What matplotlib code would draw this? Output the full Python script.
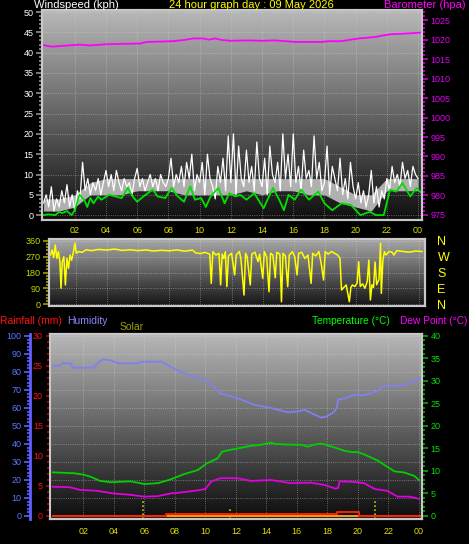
import numpy as np
import matplotlib
matplotlib.use("Agg")
import matplotlib.pyplot as plt

plt.rcParams["font.family"] = ["Liberation Sans", "DejaVu Sans"]

# ---- values ----
hour_ticks = [2, 4, 6, 8, 10, 12, 14, 16, 18, 20, 22, 24]
hour_labels = ["02", "04", "06", "08", "10", "12", "14", "16", "18", "20", "22", "00"]

# gusts, every 10 minutes from 00:00 to 24:00
gust_kph = [3, 5, 2, 7, 1, 4,
            2, 6, 3, 7.5, 2, 5,
            1, 6, 4, 13, 6, 9,
            5, 8, 6, 9, 5, 8,
            11, 7, 10, 6, 11, 8,
            6, 9, 7, 8, 5, 9,
            11.5, 7, 9, 6, 8, 10,
            7, 9, 6, 10, 8, 7,
            9, 14, 7, 10, 8, 12,
            7, 13, 9, 15, 6, 10,
            8, 13, 5, 15, 9, 7,
            4, 12, 8, 14, 6, 19.5,
            8, 20, 5, 17, 9, 7,
            16, 8, 12, 6, 18, 9,
            7, 14, 5, 17, 10, 8,
            13, 6, 20, 9, 15, 7,
            20, 8, 12, 6, 16, 9,
            11, 7, 19.5, 9, 13, 6,
            8, 17, 5, 12, 9, 6,
            14, 5, 9, 4, 13, 7,
            4, 8, 3, 6, 2, 5,
            11, 3, 7, 2, 6, 4,
            9, 6, 12, 8, 10, 7,
            13, 9, 11, 7, 12, 10,
            9]
gust_hours = np.linspace(0, 24, len(gust_kph))

# hourly band of the dense gust trace
band_hours = list(range(25))
band_lo = [1, 1, 2, 5, 5, 5, 6, 6, 6, 5, 5, 5, 5, 6, 5, 6, 6, 5, 5, 3, 2, 1, 6, 6, 6]
band_hi = [4, 4, 5, 8, 9, 9, 9, 9, 9, 9, 9, 9, 9, 9, 9, 9, 9, 9, 9, 7, 5, 5, 9, 9, 9]

avg_hours = [0.0, 0.3, 0.75, 1.0, 1.2, 1.5, 1.8, 2.0, 2.3, 2.6,
             2.8, 3.0, 3.2, 3.5, 3.7, 4.2, 4.6, 5.0, 5.4, 5.7,
             6.0, 6.4, 7.0, 7.3, 7.8, 8.2, 8.6, 9.0, 9.4, 9.7,
             10.1, 10.4, 10.7, 11.2, 11.6, 11.9, 12.3, 12.6, 13.0, 13.5,
             14.1, 14.7, 15.1, 15.4, 15.7, 16.1, 16.5, 17.0, 17.6, 18.0,
             18.5, 19.1, 19.7, 20.3, 20.9, 21.3, 21.8, 22.2, 22.6, 23.0,
             23.5, 23.9, 24.2]
avg_kph = [0, 0.2, 0, 0.8, 0.5, 1.0, 0, 1.2, 5.0, 3.8,
           2.0, 4.2, 2.9, 4.6, 3.8, 5.0, 4.6, 4.2, 6.7, 4.6,
           3.3, 4.6, 6.3, 4.6, 4.2, 6.7, 4.6, 3.3, 7.1, 3.8,
           4.2, 2.0, 4.6, 6.7, 2.9, 5.4, 4.6, 5.0, 3.8, 5.4,
           1.7, 6.7, 3.8, 1.2, 5.0, 3.8, 6.3, 3.8, 5.8, 2.9,
           1.2, 2.9, 2.5, 0, 0.8, 0, 0, 6.3, 5.8, 7.9,
           4.6, 6.7, 5.5]

baro_hours = [0.0, 0.2, 0.6, 1.2, 2.3, 3.0, 4.0, 5.0, 6.2, 6.6, 7.5, 8.3, 9.0,
              9.6, 10.2, 10.6, 11.0, 11.4, 12.0, 13.1, 14.0, 14.8, 15.5, 16.1,
              17.0, 17.8, 18.3, 19.1, 19.7, 20.2, 20.8, 21.3, 21.8, 22.3, 22.9,
              23.4, 24.2]
baro_hpa = [1018.6, 1018.4, 1018.2, 1018.4, 1018.7, 1018.5, 1018.8, 1018.9, 1019.0,
            1019.4, 1019.5, 1019.6, 1019.9, 1020.3, 1020.3, 1020.0, 1020.3, 1019.9,
            1019.7, 1019.8, 1019.7, 1019.8, 1019.6, 1019.4, 1019.4, 1019.4, 1019.6,
            1019.6, 1020.0, 1020.3, 1020.5, 1020.7, 1021.1, 1021.4, 1021.5, 1021.6,
            1021.8]

dir_hours = [0.0, 0.2, 0.4, 0.5, 0.6, 0.7, 0.8, 0.9, 1.0, 1.07, 1.15, 1.25, 1.35,
             1.45, 1.55, 1.65, 1.75, 1.87, 1.96, 2.05, 2.2, 2.4, 2.7, 3.0, 3.5,
             4.0, 4.5, 5.0, 5.5, 6.0, 6.5, 7.0, 7.5, 8.0, 8.5, 9.0, 9.5, 9.7,
             10.0, 10.3, 10.6, 10.7, 10.8, 11.0, 11.2, 11.3, 11.4, 11.5, 11.6,
             11.7, 11.8, 12.0, 12.2, 12.3, 12.5, 12.6, 12.8, 12.9, 13.0, 13.2,
             13.3, 13.5, 13.7, 13.8, 14.0, 14.1, 14.25, 14.4, 14.5, 14.65, 14.8,
             14.9, 15.1, 15.2, 15.3, 15.45, 15.6, 15.7, 15.9, 16.05, 16.2, 16.3,
             16.5, 16.7, 16.9, 17.1, 17.2, 17.4, 17.6, 17.75, 17.9, 18.0, 18.2,
             18.4, 18.6, 18.8, 18.95, 19.05, 19.2, 19.35, 19.45, 19.55, 19.65,
             19.75, 19.9, 20.05, 20.15, 20.25, 20.4, 20.55, 20.7, 20.8, 20.9,
             21.0, 21.1, 21.2, 21.3, 21.45, 21.55, 21.6, 21.7, 21.8, 21.9, 22.1,
             22.3, 22.4, 22.6, 23.0, 23.4, 23.8, 24.2]
dir_deg = [275, 290, 280, 309, 265, 337, 261, 299, 240, 90, 242, 270, 109,
           261, 204, 280, 250, 299, 347, 290, 300, 295, 310, 305, 312,
           308, 314, 306, 310, 305, 309, 303, 307, 304, 309, 302, 308, 292,
           288, 295, 285, 118, 299, 280, 290, 109, 285, 260, 298,
           99, 275, 290, 166, 280, 300, 260, 51, 290, 270, 109,
           285, 296, 242, 285, 147, 299, 270, 70, 290, 280, 150,
           295, 285, 13, 290, 275, 99, 280, 299, 270, 166, 290,
           295, 260, 280, 118, 290, 275, 300, 230, 137, 299, 285,
           300, 290, 280, 261, 80, 95, 109, 60, 13, 95,
           109, 100, 120, 242, 100, 115, 90, 130, 251, 23,
           110, 95, 240, 110, 140, 347, 61, 250, 299, 280, 300,
           295, 280, 305, 300, 296, 303, 300]

hum_hours = [0, 0.5, 0.6, 1.2, 1.3, 2.7, 3.0, 3.3, 3.8, 4.3, 5.6, 5.8, 7.1, 7.5,
             7.8, 8.6, 9.3, 9.9, 10.5, 11.0, 12.1, 13.2, 14.3, 15.4, 16.0, 16.5,
             17.0, 17.6, 18.0, 18.4, 18.6, 18.7, 19.2, 19.8, 20.3, 20.9, 21.3,
             21.6, 22.7, 23.3, 24.1]
hum_pct = [83.5, 83.5, 84.8, 84.8, 82.4, 82.4, 85.5, 87, 86.5, 84.8, 84.8, 85.7,
           85.7, 84.0, 82.4, 79.3, 77.0, 76, 72, 68, 65.5, 61.8, 60, 57.6, 58, 59,
           57, 54.6, 55.5, 57.6, 60, 64.6, 65.5, 67.4, 67.0, 68.3, 69.5, 72, 72.4,
           73.5, 76.7]

temp_hours = [0, 1.4, 2.0, 2.5, 3.1, 3.8, 5.1, 6.0, 6.9, 7.7, 8.6, 9.5, 10.1, 10.8,
              11.1, 11.5, 12.1, 13.0, 13.6, 14.3, 14.6, 15.2, 16.3, 16.7, 17.2,
              17.6, 18.3, 19.1, 19.6, 20.0, 20.4, 21.3, 22.4, 23.0, 23.7, 24.0]
temp_c = [9.7, 9.5, 9.2, 8.7, 7.8, 7.5, 7.7, 7.1, 7.3, 8.1, 9.3, 10.2, 11.7, 12.8,
          14.3, 14.6, 15.0, 15.6, 15.8, 16.3, 16.0, 15.9, 15.8, 15.4, 15.9, 16.1,
          15.4, 14.5, 14.2, 14.2, 13.7, 12.3, 9.9, 9.7, 8.9, 8.0]

dew_hours = [0, 1.1, 1.8, 2.9, 4.0, 5.1, 6.0, 6.9, 7.7, 8.6, 9.5, 10.0, 10.4, 11.0,
             12.1, 13.0, 14.3, 15.6, 16.9, 17.8, 18.5, 18.7, 18.8, 19.6, 20.4,
             21.1, 21.9, 22.6, 23.4, 24.0]
dew_c = [6.5, 6.4, 5.8, 5.6, 5.0, 4.7, 4.3, 4.4, 5.0, 5.3, 5.7, 6.0, 7.7, 8.4,
         8.4, 7.8, 8.0, 7.3, 7.4, 6.9, 6.1, 6.2, 7.7, 7.6, 7.3, 6.0, 5.6, 4.3,
         4.3, 3.8]

rain_hours = [0, 7.4, 18.6, 20.1, 24.1]
rain_mm = [0, 0.3, 0.7, 0, 0]

solar_hours = [0, 24.1]
solar_level = [0, 0]
sun_mark_hours = [5.9, 11.6, 21.1]
sun_mark_tops = [2.6, 1.1, 2.6]

W, H = 469, 544
FRAME = "#c8c8c8"
GRID = dict(color="#d8d8d8", ls=":", lw=0.6, alpha=0.55)


def box(x0, y0, x1, y1):
    return [x0 / W, 1 - y1 / H, (x1 - x0) / W, (y1 - y0) / H]


def shade(ax, top, bottom):
    g = np.linspace(top, bottom, 200).reshape(-1, 1)
    ax.imshow(g, cmap="gray", vmin=0, vmax=1, aspect="auto", extent=(0, 1, 0, 1),
              transform=ax.transAxes, zorder=0, interpolation="bilinear")


def frame(ax):
    for s in ax.spines.values():
        s.set_color(FRAME)
        s.set_linewidth(1.5)


def label(x, y, s, color, size=8, ha="left"):
    fig.text(x / W, 1 - y / H, s, color=color, fontsize=size, ha=ha, va="center")


fig = plt.figure(figsize=(W / 100, H / 100), dpi=100, facecolor="black")

# ---- wind speed / barometer ----
ax_w = fig.add_axes(box(42, 10, 422, 220))
shade(ax_w, 0.72, 0.06)
ax_w.fill_between(band_hours, band_lo, band_hi, color="#b0b0b0", lw=0, zorder=2)
ax_w.plot(gust_hours, gust_kph, color="white", lw=0.9, zorder=3)
ax_w.plot(avg_hours, avg_kph, color="#00e000", lw=1.3, zorder=4)
ax_w.set_xlim(-0.1, 24.25)
ax_w.set_ylim(-1.2, 50.5)
ax_w.set_yticks(range(0, 51, 5))
ax_w.set_yticks(range(0, 51), minor=True)
ax_w.tick_params(axis="y", which="both", colors="#909090", labelcolor="white",
                 labelsize=6.5, width=1.2, length=4, pad=2)
ax_w.tick_params(axis="y", which="minor", length=2)
ax_w.set_xticks(hour_ticks)
ax_w.set_xticklabels(hour_labels)
ax_w.tick_params(axis="x", length=0, labelcolor="#e0e000", labelsize=6.5, pad=4)
ax_w.grid(True, **GRID)
frame(ax_w)

ax_b = ax_w.twinx()
ax_b.plot(baro_hours, baro_hpa, color="#ff00ff", lw=1.3)
ax_b.set_ylim(973.7, 1027.6)
ax_b.set_yticks(range(975, 1026, 5))
ax_b.set_yticks(range(975, 1028), minor=True)
ax_b.tick_params(axis="y", which="both", colors="#d000d0", labelcolor="#e000f0",
                 labelsize=6.5, width=1.2, length=4, pad=2)
ax_b.tick_params(axis="y", which="minor", length=2)
frame(ax_b)

# ---- wind direction ----
ax_d = fig.add_axes(box(49, 239, 425, 306))
shade(ax_d, 0.66, 0.08)
ax_d.plot(dir_hours, dir_deg, color="#ffff00", lw=1.1, zorder=3)
ax_d.set_xlim(0.3, 24.4)
ax_d.set_ylim(-11.4, 371.4)
ax_d.set_xticks(hour_ticks)
ax_d.set_xticklabels([])
ax_d.tick_params(axis="x", length=0)
ax_d.set_yticks([0, 90, 180, 270, 360])
ax_d.set_yticks(range(0, 361, 18), minor=True)
ax_d.tick_params(axis="y", which="both", colors="#a0a000", labelcolor="#c8d800",
                 labelsize=6.5, width=1.2, length=4, pad=2)
ax_d.tick_params(axis="y", which="minor", length=2)
ax_d.grid(True, **GRID)
frame(ax_d)

ax_c = ax_d.twinx()
ax_c.set_ylim(-11.4, 371.4)
ax_c.set_yticks([0, 90, 180, 270, 360])
ax_c.set_yticklabels(["N", "E", "S", "W", "N"])
ax_c.tick_params(axis="y", length=0, labelcolor="#ffff00", labelsize=9, pad=9)
frame(ax_c)

# ---- humidity / rain / solar / temperature ----
ax_h = fig.add_axes(box(50, 334, 422, 519))
shade(ax_h, 0.72, 0.05)
ax_h.plot(hum_hours, hum_pct, color="#8080f0", lw=1.3, zorder=3)
ax_h.set_xlim(-0.18, 24.2)
ax_h.set_ylim(-1.67, 101.1)
ax_h.set_yticks(range(0, 101, 10))
ax_h.set_yticks(range(0, 101, 2), minor=True)
ax_h.tick_params(axis="y", which="both", colors="#6060ff", labelcolor="#5878ff",
                 labelsize=6.5, width=1.2, length=4, pad=2)
ax_h.tick_params(axis="y", which="minor", length=2)
ax_h.set_xticks(hour_ticks)
ax_h.set_xticklabels(hour_labels)
ax_h.tick_params(axis="x", length=0, labelcolor="#e0e000", labelsize=6.5, pad=6)
ax_h.grid(True, **GRID)
frame(ax_h)
ax_h.spines["left"].set_position(("outward", 14.4))
ax_h.spines["left"].set_color("#6060ff")
ax_h.spines["left"].set_linewidth(2)

ax_r = ax_h.twinx()
ax_r.yaxis.tick_left()
ax_r.plot(solar_hours, solar_level, color="#ff9900", lw=1.4, zorder=2)
for hx, top in zip(sun_mark_hours, sun_mark_tops):
    ax_r.plot([hx, hx], [-0.5, top], color="#e8e800", lw=1.1, ls=":", zorder=3)
ax_r.step(rain_hours, rain_mm, where="post", color="#ff2000", lw=1.4, zorder=4)
ax_r.set_ylim(-0.5, 30.33)
ax_r.set_yticks(range(0, 31, 5))
ax_r.set_yticks(range(0, 31), minor=True)
ax_r.tick_params(axis="y", which="both", colors="#c00000", labelcolor="#ff1010",
                 labelsize=6.5, width=1.2, length=3, pad=2)
ax_r.tick_params(axis="y", which="minor", length=2)
frame(ax_r)
ax_r.spines["right"].set_visible(False)

ax_t = ax_h.twinx()
ax_t.plot(temp_hours, temp_c, color="#00d000", lw=1.3)
ax_t.plot(dew_hours, dew_c, color="#e000e0", lw=1.3)
ax_t.set_ylim(-0.67, 40.44)
ax_t.set_yticks(range(0, 41, 5))
ax_t.set_yticks(range(0, 41), minor=True)
ax_t.tick_params(axis="y", which="both", colors="#00b000", labelcolor="#00e000",
                 labelsize=6.5, width=1.2, length=4, pad=2)
ax_t.tick_params(axis="y", which="minor", length=2)
frame(ax_t)
ax_t.spines["left"].set_visible(False)

# ---- titles ----
label(34, 5, "Windspeed (kph)", "white")
label(251, 5, "24 hour graph day : 09 May 2026", "#ffff00", ha="center")
label(466, 5, "Barometer (hpa)", "#ff00ff", ha="right")
label(0, 321, "Rainfall (mm)", "#ff1010", size=7.5)
label(67, 321, "Humidity", "#8888ff", size=7.5)
label(120, 327, "Solar", "#a0a000", size=7.5)
label(312, 321, "Temperature (°C)", "#00ff00", size=7.3)
label(467, 321, "Dew Point (°C)", "#ff00ff", size=7.3, ha="right")

fig.savefig("out.png", dpi=100, facecolor="black")
